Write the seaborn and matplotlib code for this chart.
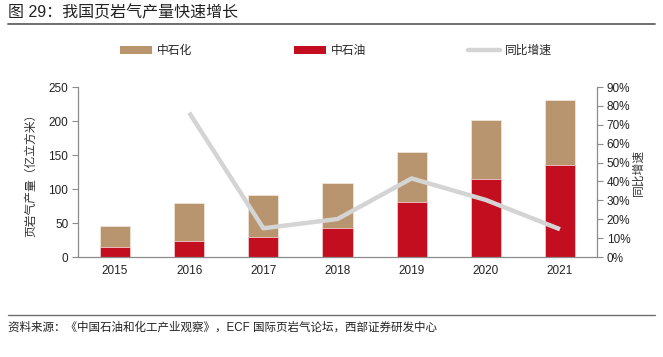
import matplotlib
matplotlib.use("Agg")
import matplotlib.pyplot as plt
import seaborn as sns
import numpy as np
import pandas as pd
from matplotlib.patches import Patch
from matplotlib.lines import Line2D
from matplotlib.ticker import FuncFormatter

years = ["2015", "2016", "2017", "2018", "2019", "2020", "2021"]
cnpc = [14, 24, 30, 42, 81, 115, 135]          # 中石油
sinopec = [31, 55, 61, 67, 74, 86, 96]          # 中石化
growth = [np.nan, 76.4, 15.2, 20.1, 41.6, 30.2, 14.7]  # 同比增速 (%)

sns.set_theme(style="white")
plt.rcParams['font.family'] = ['Liberation Sans', 'Noto Sans CJK SC', 'DejaVu Sans']
plt.rcParams['axes.unicode_minus'] = False

TAN = "#B8956E"
RED = "#C20E1E"
GREY_LINE = "#D4D4D4"
SPINE = "#8C8C8C"

df = pd.DataFrame({"year": years, "cnpc": cnpc, "sinopec": sinopec, "growth": growth})
df["total"] = df["cnpc"] + df["sinopec"]

fig = plt.figure(figsize=(6.63, 3.57), dpi=100)
ax = fig.add_axes([0.1176, 0.2801, 0.7829, 0.4762])

sns.barplot(data=df, x="year", y="total", color=TAN, width=0.405, ax=ax,
            saturation=1, edgecolor="#EFE4D8", linewidth=0.6)
sns.barplot(data=df, x="year", y="cnpc", color=RED, width=0.405, ax=ax,
            saturation=1, edgecolor="#F3C9CC", linewidth=0.6)

ax.set_ylim(0, 250)
ax.set_yticks([0, 50, 100, 150, 200, 250])
ax.set_xlim(-0.5, len(years) - 0.5)
ax.set_xlabel("")
ax.set_ylabel("页岩气产量（亿立方米）", fontsize=8.5, color="#333333", labelpad=8)
ax.tick_params(axis="y", which="major", length=4, width=0.8, color=SPINE,
               direction="out", labelsize=8.5, labelcolor="#222222", pad=3)
ax.tick_params(axis="x", which="major", length=0, labelsize=8.5, labelcolor="#222222", pad=6)
ax.set_xticks(np.arange(len(years)) + 0.5, minor=True)
ax.tick_params(axis="x", which="minor", length=4, width=0.8, color=SPINE, direction="out")
for s in ["top", "right"]:
    ax.spines[s].set_visible(False)
for s in ["left", "bottom"]:
    ax.spines[s].set_color(SPINE)
    ax.spines[s].set_linewidth(0.9)

ax2 = ax.twinx()
sns.lineplot(x=np.arange(len(years)), y=df["growth"], ax=ax2, color=GREY_LINE,
             linewidth=3.2, solid_capstyle="butt")
ax2.set_ylim(0, 90)
ax2.set_yticks(np.arange(0, 91, 10))
ax2.yaxis.set_major_formatter(FuncFormatter(lambda v, p: f"{int(round(v))}%"))
ax2.set_ylabel("同比增速", fontsize=8.5, color="#333333", rotation=90, labelpad=2)
ax2.tick_params(axis="y", length=4, width=0.8, color=SPINE, direction="out",
                labelsize=8.5, labelcolor="#222222", pad=3)
for s in ["top", "left", "bottom"]:
    ax2.spines[s].set_visible(False)
ax2.spines["right"].set_color(SPINE)
ax2.spines["right"].set_linewidth(0.9)
ax2.set_xlim(-0.5, len(years) - 0.5)

handles = [Patch(facecolor=TAN, edgecolor="none"),
           Patch(facecolor=RED, edgecolor="none"),
           Line2D([0], [0], color=GREY_LINE, linewidth=3.2)]
labels = ["中石化", "中石油", "同比增速"]
fig.legend(handles, labels, ncol=3, loc="center left",
           bbox_to_anchor=(0.165, 0.857), frameon=False, fontsize=8.5,
           handlelength=2.7, handleheight=0.7, handletextpad=0.45, columnspacing=8.6)

fig.text(0.012, 0.965, "图 29：我国页岩气产量快速增长", fontsize=11.5, color="#222222",
         ha="left", va="center")
fig.add_artist(Line2D([0.012, 0.988], [0.932, 0.932], color="#6E6E6E", linewidth=1.4,
                      transform=fig.transFigure))
fig.add_artist(Line2D([0.012, 0.988], [0.117, 0.117], color="#6E6E6E", linewidth=1.0,
                      transform=fig.transFigure))
fig.text(0.012, 0.081, "资料来源：《中国石油和化工产业观察》，ECF 国际页岩气论坛，西部证券研发中心",
         fontsize=8.3, color="#222222", ha="left", va="center")

fig.savefig("out.png", dpi=100)
